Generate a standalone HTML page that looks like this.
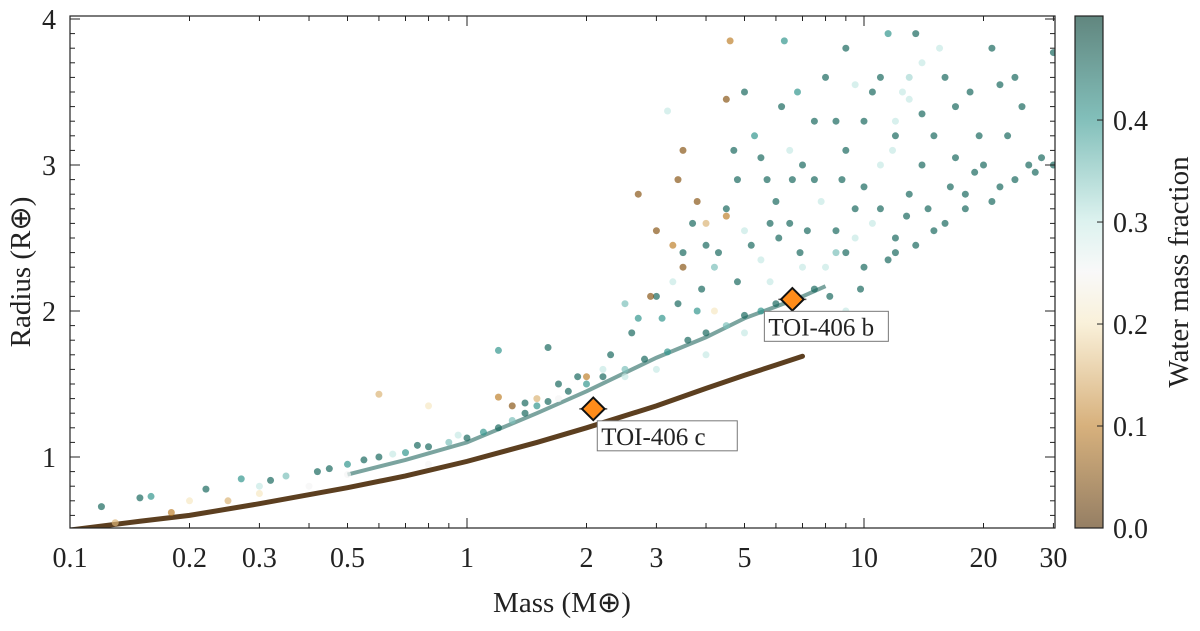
<!DOCTYPE html>
<html><head><meta charset="utf-8"><style>
body{margin:0;background:#fff}
svg text{font-family:"Liberation Serif",serif;fill:#222}
</style></head><body>
<svg id="c" width="1200" height="626"></svg>
<script>
const brownMass=[0.1,0.15,0.2,0.3,0.5,0.7,1,1.5,2,3,4,5,6,7];
const brownRad=[0.5,0.56,0.6,0.68,0.79,0.87,0.97,1.1,1.2,1.35,1.47,1.56,1.63,1.69];
const tealMass=[0.5,0.7,1,1.5,2,3,4,5,6,7,8];
const tealRad=[0.88,0.98,1.1,1.3,1.45,1.68,1.82,1.95,2.03,2.1,2.17];
const pts=[[0.12,0.66,0.45],[0.15,0.72,0.45],[0.16,0.73,0.4],[0.27,0.85,0.4],[0.35,0.87,0.35],[0.45,0.92,0.45],[0.5,0.95,0.4],[0.6,1.0,0.45],[0.7,1.03,0.4],[0.8,1.07,0.45],[0.9,1.1,0.35],[1.0,1.13,0.45],[1.1,1.17,0.4],[1.2,1.2,0.45],[1.3,1.25,0.35],[1.4,1.3,0.45],[1.5,1.35,0.4],[1.6,1.38,0.45],[1.8,1.45,0.45],[2.0,1.5,0.4],[2.2,1.55,0.45],[2.5,1.6,0.35],[2.8,1.67,0.45],[3.2,1.72,0.4],[3.6,1.8,0.45],[4.0,1.85,0.45],[4.5,1.9,0.35],[5.0,1.97,0.45],[5.5,2.0,0.4],[6.0,2.05,0.45],
[1.2,1.73,0.4],[1.6,1.75,0.45],[2.5,2.05,0.35],[2.7,1.95,0.4],[3.0,2.1,0.45],[3.3,2.2,0.3],[3.5,2.4,0.45],[3.2,3.37,0.3],[4.5,2.7,0.45],[4.7,3.1,0.45],[5.0,3.5,0.45],[5.3,3.2,0.4],[5.7,2.9,0.45],[6.2,3.4,0.45],[6.5,2.6,0.45],[6.8,3.5,0.4],[7.0,2.3,0.3],[7.5,2.9,0.45],[8.0,3.6,0.45],[8.5,2.4,0.35],[9.0,3.1,0.45],[9.5,2.7,0.45],[10,3.3,0.45],[11,3.0,0.3],[11.5,3.9,0.4],[12,2.5,0.45],[12.5,3.5,0.3],[13,2.8,0.45],[14,3.7,0.3],[15,3.2,0.45],[16,2.6,0.45],[17,3.4,0.45],[18,2.8,0.45],[20,3.0,0.45],[21,3.8,0.45],[23,3.2,0.45],[25,3.4,0.45],[27,2.95,0.45],[30,3.0,0.45],[30,3.77,0.45],[9,2.0,0.3],[7.5,2.15,0.45],[8.2,2.1,0.45],[10,2.3,0.45],[12,2.4,0.45],[15,2.55,0.45],[18,2.7,0.45],[22,2.85,0.45],[26,3.0,0.45],[4.2,2.3,0.35],[3.8,2.0,0.4],[5.5,2.35,0.3],[6,2.75,0.45],[5,2.55,0.3],[7,3.0,0.45],[8.5,3.3,0.45],[10.5,3.5,0.45],[12,3.2,0.45],[14,3.0,0.45],[16,3.6,0.45],[11,2.7,0.45],[9.5,2.5,0.3],[13,3.45,0.3],[6.3,3.85,0.4],[9,3.8,0.45],
[0.6,1.43,0.15],[0.8,1.35,0.2],[1.2,1.41,0.1],[1.3,1.35,0.05],[1.5,1.4,0.15],[2.0,1.55,0.1],[2.7,2.8,0.05],[3.3,2.45,0.1],[3.5,3.1,0.05],[3.4,2.9,0.05],[3.8,2.75,0.05],[4.0,2.6,0.15],[4.5,2.65,0.1],[4.5,3.45,0.05],[4.6,3.85,0.1],[3.0,2.55,0.05],[2.9,2.1,0.05],[3.5,2.3,0.05],[4.2,2.0,0.2],
[0.3,0.75,0.2],[0.4,0.8,0.25],[0.2,0.7,0.2],[0.13,0.55,0.15],[0.18,0.62,0.1],[0.25,0.7,0.15],[0.8,0.95,0.25],[0.5,0.88,0.25],[1.7,1.4,0.25],[2.5,1.55,0.3],[4,1.7,0.3],[3,1.6,0.3],[5,1.85,0.3],[12,3.3,0.3],[13,3.6,0.32],
[2.3,1.7,0.45],[2.6,1.85,0.45],[3.1,1.95,0.4],[3.4,2.05,0.45],[3.9,2.15,0.45],[4.3,2.4,0.45],[4.8,2.2,0.45],[5.2,2.45,0.45],[5.8,2.2,0.3],[6.1,2.5,0.45],[6.6,2.9,0.45],[7.2,2.55,0.45],[7.8,2.75,0.3],[8.8,2.9,0.45],[9.8,2.15,0.45],[10.5,2.6,0.3],[11.5,2.35,0.45],[12.8,2.65,0.45],[13.5,2.45,0.45],[14.5,2.7,0.45],[16.5,2.85,0.45],[19,2.95,0.45],[21,2.75,0.45],[24,2.9,0.45],[28,3.05,0.45],[11,3.6,0.45],[13.5,3.9,0.45],[15.5,3.8,0.3],[18.5,3.5,0.45],[22,3.55,0.45],[9.5,3.55,0.3],[7.5,3.3,0.45],[6.5,3.1,0.3],[5.5,3.05,0.45],[4.8,2.9,0.45],[8.5,2.55,0.45],[10,2.85,0.45],[11.8,3.1,0.3],[14,3.35,0.45],[17,3.05,0.45],[19.5,3.2,0.45],[24,3.6,0.45],[5.8,2.6,0.45],[4.0,2.45,0.45],[3.7,2.6,0.45],[6.9,2.4,0.45],[8,2.3,0.3],[9,2.4,0.45],[2.2,1.6,0.3],[1.9,1.55,0.45],[1.7,1.5,0.45],[1.4,1.37,0.45],[0.95,1.15,0.3],[0.75,1.08,0.45],[0.65,1.02,0.3],[0.55,0.98,0.45],[0.42,0.9,0.45],[0.32,0.84,0.45],[0.22,0.78,0.45],[0.3,0.8,0.3]];
const planetNames=["TOI-406 b","TOI-406 c"];
const planetMass=[6.6,2.08];
const planetRad=[2.08,1.33];
const xTicks=[0.1,0.2,0.3,0.5,1,2,3,5,10,20,30];
const xTickLabels=["0.1","0.2","0.3","0.5","1","2","3","5","10","20","30"];
const yTicks=[1,2,3,4];
const cbTicks=[0,0.1,0.2,0.3,0.4];

const L=70,R=1055,T=16,B=528;
const X=m=>467+397*Math.log10(m);
const Y=r=>530-146*(r-0.5);
const stops=[[0,[84,48,5]],[0.1,[191,129,45]],[0.2,[246,232,195]],[0.25,[245,245,245]],[0.3,[199,234,229]],[0.4,[53,151,143]],[0.5,[0,60,48]]];
function cmap(v){v=Math.max(0,Math.min(0.5,v));for(let i=1;i<stops.length;i++){if(v<=stops[i][0]){const a=stops[i-1],b=stops[i],t=(v-a[0])/(b[0]-a[0]);return 'rgb('+a[1].map((c,k)=>Math.round(c+(b[1][k]-c)*t)).join(',')+')';}}return 'rgb(0,60,48)';}
const svg=document.getElementById('c');const NS='http://www.w3.org/2000/svg';
function el(t,a,p){const e=document.createElementNS(NS,t);for(const k in a)e.setAttribute(k,a[k]);(p||svg).appendChild(e);return e;}
const defs=el('defs',{});const cp=el('clipPath',{id:'cl'},defs);el('rect',{x:L,y:T,width:R-L,height:B-T},cp);
const g=el('g',{'clip-path':'url(#cl)'});


let d=brownMass.map((m,i)=>(i?'L':'M')+X(m)+','+Y(brownRad[i])).join('');
const bl=el('path',{d:d,fill:'none',stroke:'#4a2a08',"stroke-width":5,"stroke-linecap":"round",opacity:0.9},g);


d=tealMass.map((m,i)=>(i?'L':'M')+X(m)+','+Y(tealRad[i])).join('');
const tl=el('path',{d:d,fill:'none',stroke:'#0f5a50',"stroke-width":4,opacity:0.55},g);


pts.forEach(p=>{const c=el('circle',{cx:X(p[0]),cy:Y(p[1]),r:3.5,fill:cmap(p[2]),opacity:0.7},g);

});
el('rect',{x:L,y:T,width:R-L,height:B-T,fill:'none',stroke:'#222','stroke-width':1.2});
for(let dec=-1;dec<2;dec++)for(let k=1;k<10;k++){const m=k*Math.pow(10,dec);if(m<0.1||m>30)continue;const x=X(m),len=k==1?10:5;
el('line',{x1:x,x2:x,y1:B,y2:B-len,stroke:'#222'});el('line',{x1:x,x2:x,y1:T,y2:T+len,stroke:'#222'});}
xTicks.forEach((m,i)=>{const t=el('text',{x:X(m),y:B+39,'text-anchor':'middle','font-size':28});t.textContent=xTickLabels[i];

});
for(let r=0.6;r<4.01;r+=0.1){const y=Y(r),maj=Math.abs(r-Math.round(r))<0.01,len=maj?10:5;
el('line',{x1:L,x2:L+len,y1:y,y2:y,stroke:'#222'});el('line',{x1:R,x2:R-len,y1:y,y2:y,stroke:'#222'});}
yTicks.forEach(r=>{const t=el('text',{x:L-14,y:Y(r)+10,'text-anchor':'end','font-size':28});t.textContent=r;

});
let t=el('text',{x:562,y:612,'text-anchor':'middle','font-size':29});t.textContent='Mass (M⊕)';


t=el('text',{x:30,y:272,'text-anchor':'middle','font-size':29,transform:'rotate(-90 30 272)'});t.textContent='Radius (R⊕)';


planetNames.forEach((n,i)=>{const x=X(planetMass[i]),y=Y(planetRad[i]);
el('line',{x1:x-14,x2:x+14,y1:y,y2:y,stroke:'#555','stroke-width':1.5});
const dm=el('rect',{x:x-8,y:y-8,width:16,height:16,fill:'#ff8c1a',stroke:'#111','stroke-width':2,transform:`rotate(45 ${x} ${y})`});


const bx=x+(i==0?-28:4),by=y+12,w=i==0?124:140;
el('rect',{x:bx,y:by,width:w,height:30,fill:'#fff',stroke:'#777','stroke-width':1});
const lt=el('text',{x:bx+4,y:by+24,'font-size':25});lt.textContent=n;

});
const lg=el('linearGradient',{id:'cg',x1:0,y1:1,x2:0,y2:0},defs);
for(let v=0;v<=0.5001;v+=0.05)el('stop',{offset:v/0.5,'stop-color':cmap(v)},lg);
const CX=1075,CW=28,CB=528,CT=16,CY=v=>CB-(CB-CT)*v/0.502;
const cb=el('rect',{x:CX,y:CT,width:CW,height:CB-CT,fill:'url(#cg)',opacity:0.62,stroke:'none'});


el('rect',{x:CX,y:CT,width:CW,height:CB-CT,fill:'none',stroke:'#222','stroke-width':1.2});
cbTicks.forEach(v=>{const y=CY(v);el('line',{x1:CX+CW,x2:CX+CW-6,y1:y,y2:y,stroke:'#222'});
const ct=el('text',{x:CX+CW+10,y:y+10,'font-size':28});ct.textContent=v.toFixed(1);

});
t=el('text',{x:1188,y:272,'text-anchor':'middle','font-size':29,transform:'rotate(-90 1188 272)'});t.textContent='Water mass fraction';


</script>
</body></html>
